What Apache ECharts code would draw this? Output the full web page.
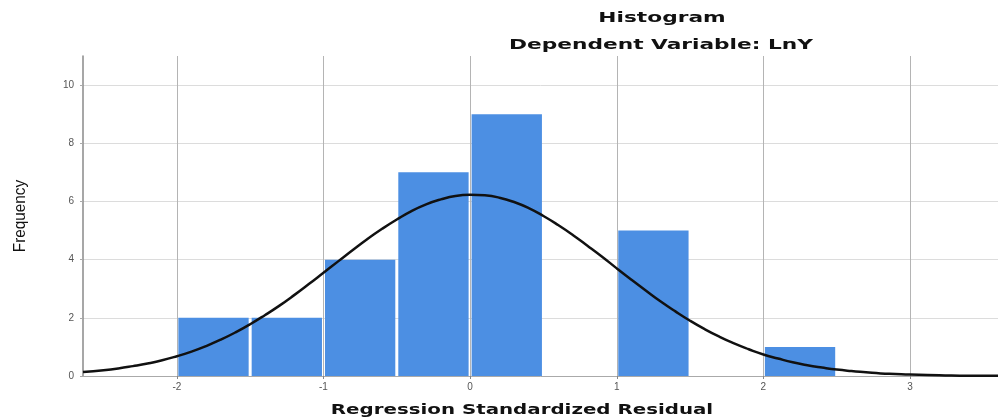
<!DOCTYPE html>
<html>
<head>
<meta charset="utf-8">
<script src="https://cdn.jsdelivr.net/npm/echarts@6/dist/echarts.min.js"></script>
<style>html,body{margin:0;padding:0;background:#fff;}#c{width:998px;height:418px;}</style>
</head>
<body>
<div id="c"></div>
<script>
// Histogram bins (lower edge, upper edge) and frequencies
const binStart = [-2, -1.5, -1, -0.5, 0, 1, 2];
const binEnd   = [-1.5, -1, -0.5, 0, 0.5, 1.5, 2.5];
const freq     = [2, 2, 4, 7, 9, 5, 1];
// Normal curve
const curveX = [-2.64,-2.5,-2.4,-2.3,-2.2,-2.1,-2.0,-1.9,-1.8,-1.7,-1.6,-1.5,-1.4,-1.3,-1.2,-1.1,-1.0,-0.9,-0.8,-0.7,-0.6,-0.5,-0.4,-0.3,-0.2,-0.1,0.0,0.1,0.2,0.3,0.4,0.5,0.6,0.7,0.8,0.9,1.0,1.1,1.2,1.3,1.4,1.5,1.6,1.7,1.8,1.9,2.0,2.1,2.2,2.3,2.4,2.5,2.6,2.7,2.8,2.9,3.0,3.2,3.4,3.6];
const curveY = [0.14,0.20,0.26,0.34,0.43,0.54,0.68,0.84,1.03,1.25,1.50,1.78,2.09,2.42,2.78,3.16,3.55,3.94,4.33,4.71,5.06,5.38,5.67,5.90,6.07,6.19,6.23,6.21,6.13,5.98,5.77,5.50,5.19,4.85,4.48,4.10,3.70,3.31,2.93,2.56,2.22,1.90,1.61,1.35,1.12,0.92,0.74,0.60,0.47,0.37,0.29,0.22,0.17,0.13,0.09,0.07,0.05,0.03,0.01,0.01];
const xTicks = [-2, -1, 0, 1, 2, 3];
const yTicks = [0, 2, 4, 6, 8, 10];

const chart = echarts.init(document.getElementById('c'));
const barData = binStart.map((s, i) => [s, binEnd[i], freq[i]]);
const lineData = curveX.map((x, i) => [x, curveY[i]]);

chart.setOption({
  animation: false,
  backgroundColor: '#fff',
  grid: { left: 83, right: 0, top: 56, bottom: 42 },
  xAxis: {
    type: 'value', min: -2.64, max: 3.6,
    axisLine: { show: true, onZero: false, lineStyle: { color: '#aaaaaa', width: 1 } },
    axisTick: { show: true, customValues: xTicks, length: 3, lineStyle: { color: '#888' } },
    axisLabel: { customValues: xTicks, color: '#555', fontSize: 10, fontFamily: 'Liberation Sans', margin: 6 },
    splitLine: { show: true, lineStyle: { color: '#b4b4b4', width: 1 } }
  },
  yAxis: {
    type: 'value', min: 0, max: 11,
    axisLine: { show: true, onZero: false, lineStyle: { color: '#8a8a8a', width: 1.5 } },
    axisTick: { show: true, customValues: yTicks, length: 3, lineStyle: { color: '#aaa' } },
    axisLabel: { customValues: yTicks, color: '#555', fontSize: 10, fontFamily: 'Liberation Sans', margin: 9 },
    splitLine: { show: true, lineStyle: { color: '#dcdcdc', width: 1 } }
  },
  graphic: [
    { type: 'text', style: { text: 'Histogram', x: 662, y: 18, align: 'center', verticalAlign: 'middle', fill: '#111', font: 'bold 14px "DejaVu Sans"' }, originX: 662, originY: 18, scaleX: 1.55 },
    { type: 'text', style: { text: 'Dependent Variable: LnY', x: 661, y: 45, align: 'center', verticalAlign: 'middle', fill: '#111', font: 'bold 14px "DejaVu Sans"' }, originX: 661, originY: 45, scaleX: 1.55 },
    { type: 'text', style: { text: 'Regression Standardized Residual', x: 522, y: 410, align: 'center', verticalAlign: 'middle', fill: '#111', font: 'bold 14px "DejaVu Sans"' }, originX: 522, originY: 410, scaleX: 1.415 },
    { type: 'text', style: { text: 'Frequency', x: 20, y: 216, align: 'center', verticalAlign: 'middle', fill: '#111', font: '17px "Liberation Sans Narrow", "Liberation Sans"' }, originX: 20, originY: 216, rotation: Math.PI / 2, scaleX: 0.9 }
  ],
  series: [
    {
      type: 'custom',
      data: barData,
      encode: { x: [0, 1], y: 2 },
      renderItem: function (params, api) {
        const p0 = api.coord([api.value(0), 0]);
        const p1 = api.coord([api.value(1), api.value(2)]);
        return {
          type: 'rect',
          shape: { x: p0[0] + 1.5, y: p1[1], width: p1[0] - p0[0] - 3, height: p0[1] - p1[1] },
          style: { fill: '#4c8fe3' }
        };
      },
      z: 2
    },
    {
      type: 'line',
      data: lineData,
      smooth: true,
      showSymbol: false,
      lineStyle: { color: '#111', width: 2.5 },
      z: 3
    }
  ]
});
</script>
</body>
</html>
